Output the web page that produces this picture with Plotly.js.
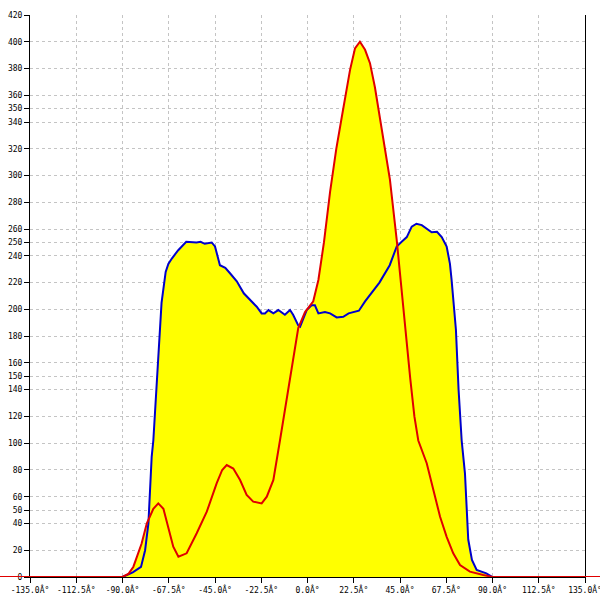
<!DOCTYPE html>
<html>
<head>
<meta charset="utf-8">
<script src="https://cdn.plot.ly/plotly-3.0.1.min.js"></script>
<style>html,body{margin:0;padding:0;background:#fff;}#chart{width:600px;height:600px;}</style>
</head>
<body>
<div id="chart"></div>
<script>
// Blue series (angle in degrees, value)
var blueX = [-90, -85, -81, -79, -77.4, -76.6, -75.8, -75, -73.5, -72.6, -71, -69, -67.7, -66, -63, -59, -54, -52, -50, -46.6, -45, -42.6, -40, -37.7, -34.4, -31, -28, -24.7, -22.3, -20.7, -19, -16.6, -14.2, -11, -8.5, -7, -4.5, -3.6, -0.4, 2, 3.6, 5.3, 8.5, 11, 14.2, 17.4, 20, 25, 28, 31, 35, 40, 43.4, 45.8, 48.3, 50.7, 53, 55.6, 58, 60.4, 63, 65.3, 67.7, 69.3, 70.1, 71.3, 72.2, 73.5, 75, 76.6, 77.4, 78.2, 80, 82.3, 87, 90];
var blueY = [0, 3.5, 7.5, 20, 40, 65, 90, 102, 140, 170, 205, 228, 234, 238, 244, 250.5, 250, 250.5, 249, 250, 247, 233, 231, 227, 221, 212, 207, 202, 197, 197, 199.5, 197, 199.5, 196, 199.5, 196, 188, 187, 199.5, 203, 203, 197, 198, 197, 194, 194.5, 197, 199, 206, 212, 220, 233, 247, 250.6, 254, 261.8, 264, 263, 260.6, 257.6, 258, 254, 247, 234, 222, 202, 185, 140, 102, 77.5, 52.5, 28, 12.7, 5.2, 2.7, 0];

// Red series
var redX = [-180, -135, -90, -87, -84.7, -80.7, -78.2, -75, -72.6, -70.1, -67.7, -65.3, -62.8, -58.8, -53.9, -49, -44.2, -41.5, -39.3, -36.1, -32.8, -29.6, -26.4, -22.3, -19.8, -16.6, -13.4, -11, -8.5, -4.5, -1.2, 2.8, 5.3, 8, 11, 14, 16.6, 18.2, 20.7, 23.1, 25.5, 28, 30.4, 32.8, 35.3, 37.7, 40.1, 43.4, 45, 47.4, 50, 52, 53.9, 58, 61.2, 64.5, 67.7, 70.9, 74.2, 79, 85.5, 90, 135, 180];
var redY = [0, 0, 0, 2.5, 7.7, 25, 40, 51, 55, 51, 37.6, 22.6, 15.2, 17.7, 32.7, 48.8, 70, 80, 83.7, 81, 72.5, 61.3, 56.3, 55, 60, 72.5, 102, 125, 147, 186, 198, 206, 222, 250, 288, 320, 343, 356.5, 379, 395, 400, 394, 384, 366, 343, 320, 297, 252, 226, 188, 148, 120, 102, 85, 65, 45, 30, 17.7, 9, 4, 1.5, 0, 0, 0];

// Axis ticks
var xTickVals = [-135, -112.5, -90, -67.5, -45, -22.5, 0, 22.5, 45, 67.5, 90, 112.5, 135];
var xTickText = ["-135.0Â°", "-112.5Â°", "-90.0Â°", "-67.5Â°", "-45.0Â°", "-22.5Â°", "0.0Â°", "22.5Â°", "45.0Â°", "67.5Â°", "90.0Â°", "112.5Â°", "135.0Â°"];
var yTickVals = [0, 20, 40, 50, 60, 80, 100, 120, 140, 150, 160, 180, 200, 220, 240, 250, 260, 280, 300, 320, 340, 350, 360, 380, 400, 420];

var yellow = '#ffff00';
var blueCol = '#0000cc';
var redCol = '#e00000';

var traces = [
  {x: blueX, y: blueY, type: 'scatter', mode: 'none', fill: 'tozeroy', fillcolor: yellow, hoverinfo: 'skip'},
  {x: redX, y: redY, type: 'scatter', mode: 'none', fill: 'tozeroy', fillcolor: yellow, hoverinfo: 'skip'},
  {x: blueX, y: blueY, type: 'scatter', mode: 'lines', line: {color: blueCol, width: 2}},
  {x: redX, y: redY, type: 'scatter', mode: 'lines', line: {color: redCol, width: 2}}
];

var tickFont = {family: 'DejaVu Sans Mono, monospace', size: 8, color: '#000'};

var layout = {
  width: 600, height: 600,
  margin: {l: 30, r: 15, t: 15, b: 23, pad: 0},
  paper_bgcolor: '#fff', plot_bgcolor: '#fff',
  showlegend: false,
  xaxis: {
    range: [-135, 135], tickmode: 'array', tickvals: xTickVals, ticktext: xTickText,
    showgrid: true, gridcolor: '#c4c4c4', griddash: '3px,3px', gridwidth: 1,
    zeroline: false, showline: true, linecolor: '#000', linewidth: 1,
    ticks: 'outside', ticklen: 5, tickcolor: '#000', tickfont: tickFont,
    ticklabeloverflow: 'allow', automargin: false,
    layer: 'below traces', fixedrange: true
  },
  yaxis: {
    range: [0, 420], tickmode: 'array', tickvals: yTickVals,
    showgrid: true, gridcolor: '#c4c4c4', griddash: '3px,3px', gridwidth: 1,
    zeroline: false, showline: true, mirror: true, linecolor: '#000', linewidth: 1,
    ticks: 'outside', ticklen: 5, tickcolor: '#000', tickfont: tickFont,
    ticklabeloverflow: 'allow', automargin: false,
    layer: 'below traces', fixedrange: true
  },
  shapes: [
    {type: 'line', xref: 'paper', yref: 'y', x0: -0.06, x1: 0, y0: 0, y1: 0, line: {color: redCol, width: 2}},
    {type: 'line', xref: 'paper', yref: 'y', x0: 1, x1: 1.03, y0: 0, y1: 0, line: {color: redCol, width: 2}}
  ]
};

Plotly.newPlot('chart', traces, layout, {displayModeBar: false, staticPlot: true});
</script>
</body>
</html>
